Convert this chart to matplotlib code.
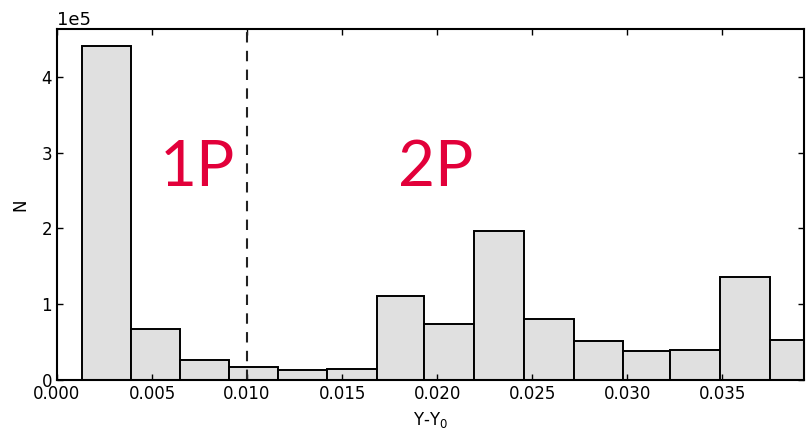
import numpy as np
import matplotlib
matplotlib.use("Agg")
import matplotlib.pyplot as plt

# bin edges (Y - Y0)
edges = [0.00129, 0.00391, 0.00645, 0.00904, 0.01163, 0.01422, 0.01682, 0.01931,
         0.02194, 0.02456, 0.02718, 0.02978, 0.03227, 0.03487, 0.03750, 0.04010]
# counts per bin
counts = [4.41e5, 0.673e5, 0.264e5, 0.172e5, 0.132e5, 0.141e5, 1.112e5, 0.739e5,
          1.96e5, 0.805e5, 0.515e5, 0.379e5, 0.396e5, 1.355e5, 0.528e5]
split = 0.010
labels = ["1P", "2P"]
label_x = [0.0074, 0.01995]
label_y = 2.80e5

plt.rcParams['xtick.direction'] = 'in'
plt.rcParams['ytick.direction'] = 'in'
plt.rcParams['xtick.top'] = True
plt.rcParams['ytick.right'] = True

fig = plt.figure(figsize=(8.06, 4.37), dpi=100)
ax = fig.add_axes([0.0707, 0.1304, 0.9268, 0.8032])

ax.hist(edges[:-1], bins=edges, weights=counts, color='#e0e0e0',
        edgecolor='black', linewidth=1.4)
ax.axvline(split, color='#222222', linestyle=(0, (5, 4)), linewidth=1.5)

# population labels
for t, x in zip(labels, label_x):
	ax.text(x, label_y, t, color='#e2003a', fontsize=46, family='Lato',
	        ha='center', va='center')

ax.set_xlim(0, 0.0393)
ax.set_ylim(0, 4.63e5)
ax.set_xticks([0.000, 0.005, 0.010, 0.015, 0.020, 0.025, 0.030, 0.035])
ax.set_yticks([0, 1e5, 2e5, 3e5, 4e5])
ax.ticklabel_format(axis='y', style='sci', scilimits=(0, 0))
ax.tick_params(labelsize=12, length=4, width=1)
ax.yaxis.get_offset_text().set_fontsize(13)
ax.set_xlabel("Y-Y$_0$", fontsize=12, labelpad=5)
ax.set_ylabel("N", fontsize=12, labelpad=9)
for s in ax.spines.values():
	s.set_linewidth(1.5)

fig.savefig("out.png", dpi=100)
